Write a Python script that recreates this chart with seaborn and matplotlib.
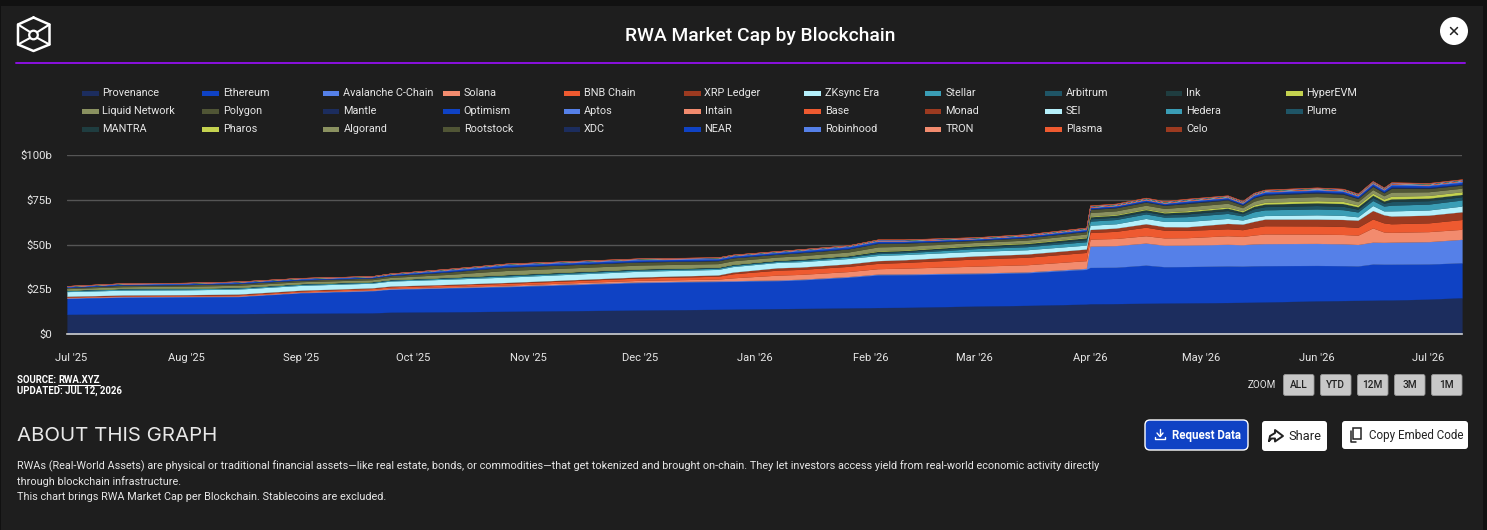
import matplotlib
matplotlib.use("Agg")
import matplotlib.pyplot as plt
import matplotlib.dates as mdates
from matplotlib.patches import Circle, FancyBboxPatch, Rectangle
import pandas as pd
import seaborn as sns

# sample dates
dates = ["2025-06-30", "2025-07-15", "2025-08-01", "2025-08-15", "2025-09-01", "2025-09-20", "2025-09-25", "2025-10-10",
         "2025-10-26", "2025-12-01", "2025-12-22", "2025-12-26", "2026-01-07", "2026-01-13", "2026-01-26", "2026-02-03",
         "2026-02-10", "2026-03-01", "2026-03-15", "2026-03-31", "2026-04-01", "2026-04-08", "2026-04-16", "2026-04-21",
         "2026-04-27", "2026-05-08", "2026-05-12", "2026-05-15", "2026-05-18", "2026-06-01", "2026-06-08", "2026-06-12",
         "2026-06-16", "2026-06-19", "2026-06-21", "2026-07-01", "2026-07-10"]

# market cap per chain, in $b
provenance = [11.0, 11.2, 11.4, 11.4, 11.6, 11.8, 12.2, 12.4, 12.7, 13.4, 13.8, 13.9, 14.2, 14.3, 14.6, 14.8, 14.9, 15.6, 16.0, 16.7, 16.9, 17.0, 17.2, 17.3, 17.4, 17.6, 17.7, 17.8, 17.9, 18.5, 18.7, 18.8, 18.9, 19.0, 19.0, 19.5, 20.3]
ethereum = [8.9, 9.4, 9.3, 9.5, 11.4, 12.3, 12.8, 13.3, 13.7, 15.3, 15.5, 15.5, 15.6, 15.9, 17.1, 18.2, 18.2, 18.0, 18.2, 19.4, 20.3, 20.3, 21.3, 20.3, 20.3, 20.4, 20.2, 20.3, 20.3, 19.8, 19.5, 19.2, 20.2, 20.0, 20.0, 19.6, 19.5]
avalanche = [.3, .3, .3, .3, .3, .3, .3, .3, .4, .4, .4, .4, .4, .4, .4, .5, .5, .5, .5, .6, 11.9, 12.1, 12.3, 12.0, 12.0, 12.1, 12.0, 12.2, 12.3, 12.3, 12.2, 12.0, 12.2, 12.2, 12.3, 12.5, 13.1]
solana = [.2, .2, .2, .2, .2, .3, .3, .4, .5, .9, 1.0, 1.6, 2.7, 2.7, 2.8, 3.0, 3.2, 3.8, 4.0, 4.3, 3.9, 4.0, 4.1, 4.1, 4.1, 4.8, 4.6, 5.0, 5.4, 5.2, 5.2, 5.2, 8.0, 5.8, 5.5, 5.6, 5.6]
bnb = [.3, .3, .4, .5, .6, .7, .8, .9, 1.0, 1.3, 1.6, 2.3, 2.8, 2.8, 2.9, 3.0, 3.2, 4.0, 4.2, 4.6, 3.7, 4.0, 4.8, 4.3, 4.1, 3.9, 3.8, 4.2, 4.6, 4.6, 4.5, 4.4, 5.0, 5.1, 4.8, 4.9, 5.5]
xrp = [.4, .4, .4, .4, .4, .4, .4, .4, .5, .6, .7, .9, 1.3, 1.3, 1.4, 1.5, 1.5, 1.7, 1.8, 1.9, 1.7, 1.8, 1.9, 2.0, 2.0, 3.0, 3.1, 3.4, 3.7, 3.8, 3.9, 4.0, 4.7, 4.5, 4.3, 4.3, 4.3]
zksync = [2.6, 2.7, 2.7, 2.8, 2.7, 2.6, 2.8, 2.9, 3.0, 3.2, 3.1, 3.1, 3.0, 3.0, 3.0, 2.9, 2.9, 2.6, 2.4, 2.2, 2.4, 2.4, 3.0, 2.9, 3.0, 2.8, 2.3, 2.4, 2.0, 2.4, 2.3, 1.9, 2.8, 2.2, 2.9, 2.9, 3.2]
stellar = [.5, .6, .6, .6, .6, .5, .5, .6, .7, .7, .65, .65, .6, .7, .8, 1.0, 1.0, 1.5, 1.7, 1.9, 2.3, 2.4, 2.5, 2.4, 2.7, 2.8, 2.3, 3.0, 3.2, 3.3, 3.2, 2.7, 2.8, 2.7, 3.2, 3.3, 3.4]
arbitrum = [.3, .3, .3, .3, .3, .3, .3, .35, .5, .45, .4, .4, .4, .45, .5, .8, .8, .9, 1.0, 1.2, 1.3, 1.3, 1.3, 1.3, 1.5, 1.6, 1.3, 1.7, 1.8, 1.9, 1.9, 1.6, 1.7, 1.6, 2.0, 1.9, 1.8]
ink = [.1, .1, .1, .1, .1, .1, .1, .15, .2, .2, .2, .2, .25, .3, .3, .5, .5, .7, .8, 1.0, 1.1, 1.1, 1.1, 1.1, 1.2, 1.3, 1.0, 1.3, 1.4, 1.5, 1.5, 1.3, 1.3, 1.2, 1.5, 1.4, 1.3]
hyperevm = [.05, .05, .05, .05, .05, .05, .05, .07, .1, .1, .1, .1, .1, .12, .12, .3, .3, .35, .4, .4, .4, .45, .5, .5, .6, .7, .6, .8, 1.0, 1.2, 1.2, 1.0, 1.1, 1.1, 1.5, 1.5, 1.5]
liquid = [.7, .9, 1.0, 1.1, 1.0, 1.0, 1.1, 1.5, 2.2, 2.0, 1.9, 1.9, 1.7, 1.8, 1.9, 2.2, 2.0, 1.5, 1.5, 1.7, 2.0, 2.0, 2.0, 2.0, 2.2, 2.1, 1.7, 2.1, 2.2, 2.3, 2.2, 1.9, 2.0, 1.9, 2.3, 2.1, 2.0]
polygon = [.6, .8, .8, .9, .9, .9, .95, 1.3, 1.8, 1.7, 1.6, 1.6, 1.5, 1.6, 1.7, 1.9, 1.8, 1.1, 1.3, 1.4, 1.7, 1.7, 1.7, 1.7, 1.8, 1.8, 1.4, 1.8, 1.9, 2.0, 1.9, 1.7, 1.8, 1.6, 2.1, 1.8, 1.7]
mantle = [.1, .15, .15, .15, .15, .15, .17, .2, .25, .25, .25, .22, .22, .25, .25, .3, .3, .25, .3, .3, .4, .4, .4, .4, .5, .5, .4, .5, .6, .6, .6, .5, .5, .5, .7, .6, .6]
optimism = [.35, .45, .45, .5, .5, .45, .5, .7, .9, .85, .8, .75, .75, .85, .9, .85, .75, .6, .7, .7, .7, .7, .7, .7, .8, .7, .6, .9, .9, .95, .9, .8, .9, .9, 1.1, 1.0, 1.0]
aptos = [.17, .22, .22, .27, .27, .22, .3, .45, .47, .47, .42, .4, .4, .45, .45, .38, .28, .23, .23, .43, .13, .18, .33, .23, .33, .33, .33, .43, .43, .48, .43, .43, .53, .53, .53, .43, .63]
intain = [.05, .05, .05, .05, .05, .05, .05, .06, .06, .06, .06, .06, .06, .06, .06, .08, .08, .08, .08, .08, .1, .1, .1, .1, .1, .1, .1, .1, .1, .1, .1, .1, .1, .1, .1, .1, .1]
base = [.08, .08, .08, .08, .08, .08, .08, .1, .1, .1, .1, .1, .1, .1, .1, .15, .15, .15, .15, .15, .2, .2, .2, .2, .2, .2, .2, .2, .2, .2, .2, .2, .2, .2, .2, .2, .2]
monad = [0, 0, 0, 0, 0, 0, 0, .02, .02, .02, .02, .02, .02, .02, .02, .05, .05, .05, .05, .05, .1, .1, .1, .1, .1, .1, .1, .1, .1, .1, .1, .1, .1, .1, .1, .1, .1]
sei = [.04, .04, .04, .04, .04, .04, .04, .05, .05, .05, .05, .05, .05, .05, .05, .08, .08, .08, .08, .08, .1, .1, .1, .1, .1, .1, .1, .1, .1, .1, .1, .1, .1, .1, .1, .1, .1]
hedera = [.03, .03, .03, .03, .03, .03, .03, .03, .03, .03, .03, .03, .03, .03, .03, .05, .05, .05, .05, .05, .06, .06, .06, .06, .06, .06, .06, .06, .06, .06, .06, .06, .06, .06, .06, .06, .06]
plume = [0, 0, 0, 0, 0, 0, 0, .02, .02, .02, .02, .02, .02, .02, .02, .05, .05, .05, .05, .05, .08, .08, .08, .08, .08, .08, .08, .08, .08, .08, .08, .08, .08, .08, .08, .08, .08]
mantra = [0, 0, 0, 0, 0, 0, 0, .01, .01, .01, .01, .01, .01, .01, .01, .03, .03, .03, .03, .03, .05, .05, .05, .05, .05, .05, .05, .05, .05, .05, .05, .05, .05, .05, .05, .05, .05]
pharos = [0, 0, 0, 0, 0, 0, 0, 0, 0, 0, 0, 0, 0, 0, 0, .01, .01, .01, .01, .01, .02, .02, .02, .02, .02, .02, .02, .02, .02, .02, .02, .02, .02, .02, .02, .02, .02]
algorand = [.03, .03, .03, .03, .03, .03, .03, .03, .03, .03, .03, .03, .03, .03, .03, .03, .03, .03, .03, .03, .03, .03, .03, .03, .03, .03, .03, .03, .03, .03, .03, .03, .03, .03, .03, .03, .03]
rootstock = [.03, .03, .03, .03, .03, .03, .03, .03, .03, .03, .03, .03, .03, .03, .03, .03, .03, .03, .03, .03, .03, .03, .03, .03, .03, .03, .03, .03, .03, .03, .03, .03, .03, .03, .03, .03, .03]
xdc = [.03, .03, .03, .03, .03, .03, .03, .03, .03, .03, .03, .03, .03, .03, .03, .03, .03, .03, .03, .03, .03, .03, .03, .03, .03, .03, .03, .03, .03, .03, .03, .03, .03, .03, .03, .03, .03]
near = [.02, .02, .02, .02, .02, .02, .02, .02, .02, .02, .02, .02, .02, .02, .02, .02, .02, .02, .02, .02, .02, .02, .02, .02, .02, .02, .02, .02, .02, .02, .02, .02, .02, .02, .02, .02, .02]
robinhood = [0, 0, 0, 0, 0, 0, 0, 0, 0, 0, 0, 0, 0, 0, 0, .02, .02, .02, .02, .02, .05, .05, .05, .05, .05, .05, .05, .05, .05, .05, .05, .05, .05, .05, .05, .05, .05]
tron = [.06, .06, .06, .06, .06, .06, .06, .08, .08, .08, .08, .08, .08, .08, .08, .09, .09, .09, .09, .09, .1, .1, .1, .1, .1, .1, .1, .1, .1, .1, .1, .1, .1, .1, .1, .1, .1]
plasma = [0, 0, 0, 0, 0, 0, 0, .03, .03, .03, .03, .03, .03, .03, .03, .06, .06, .06, .06, .06, .1, .1, .1, .1, .1, .1, .1, .1, .1, .1, .1, .1, .1, .1, .1, .1, .1]
celo = [.06, .06, .06, .06, .06, .06, .06, .07, .07, .07, .07, .07, .07, .07, .07, .09, .09, .09, .09, .09, .1, .1, .1, .1, .1, .1, .1, .1, .1, .1, .1, .1, .1, .1, .1, .1, .1]

chains = ["Provenance", "Ethereum", "Avalanche C-Chain", "Solana", "BNB Chain", "XRP Ledger", "ZKsync Era", "Stellar",
          "Arbitrum", "Ink", "HyperEVM", "Liquid Network", "Polygon", "Mantle", "Optimism", "Aptos", "Intain", "Base",
          "Monad", "SEI", "Hedera", "Plume", "MANTRA", "Pharos", "Algorand", "Rootstock", "XDC", "NEAR", "Robinhood",
          "TRON", "Plasma", "Celo"]
series = [provenance, ethereum, avalanche, solana, bnb, xrp, zksync, stellar, arbitrum, ink, hyperevm, liquid, polygon,
          mantle, optimism, aptos, intain, base, monad, sei, hedera, plume, mantra, pharos, algorand, rootstock, xdc,
          near, robinhood, tron, plasma, celo]

month_ticks = ["2025-07-01", "2025-08-01", "2025-09-01", "2025-10-01", "2025-11-01", "2025-12-01", "2026-01-01",
               "2026-02-01", "2026-03-01", "2026-04-01", "2026-05-01", "2026-06-01", "2026-07-01"]
value_ticks = [0, 25, 50, 75, 100]
value_labels = ["$0", "$25b", "$50b", "$75b", "$100b"]
zoom_labels = ["ALL", "YTD", "12M", "3M", "1M"]

base_colors = ["#1c2d5e", "#0f42c4", "#5580e8", "#f28b6e", "#ee5a30", "#9c3a20", "#b5f0fb", "#3a9db5", "#1f5566",
               "#1f3d40", "#c4d24f", "#8a9160", "#505535"]
palette = sns.color_palette(base_colors)
colors = [palette[i % len(palette)] for i in range(len(chains))]

BG = "#1e1e1e"
sns.set_theme(style="dark", rc={"axes.facecolor": "none", "figure.facecolor": "#111111"})
plt.rcParams["font.family"] = ["Roboto", "DejaVu Sans"]

df = pd.DataFrame(dict(zip(chains, series)), index=pd.to_datetime(dates))

W, H = 1487, 530
fig = plt.figure(figsize=(W / 100, H / 100), dpi=100)

# page furniture lives on a full-figure axes in pixel units
page = fig.add_axes([0, 0, 1, 1], zorder=0)
page.set_xlim(0, W)
page.set_ylim(H, 0)
page.axis("off")
page.add_patch(Rectangle((1, 6), 1482, 524, color=BG, lw=0))

# logo
hexagon = [(33.5, 17.5), (49.5, 24.5), (49.5, 44.5), (33.5, 51), (18, 44.5), (18, 24.5), (33.5, 17.5)]
page.plot(*zip(*hexagon), color="white", lw=1.8)
inner = [(18, 24.5, 30, 32), (49.5, 24.5, 37.5, 32), (18, 44.5, 30, 38), (49.5, 44.5, 37.5, 38)]
for x0, y0, x1, y1 in inner:
    page.plot([x0, x1], [y0, y1], color="white", lw=1.5)
page.add_patch(Circle((33.5, 35), 4.3, fill=False, ec="white", lw=1.6))

page.text(760.5, 36, "RWA Market Cap by Blockchain", color="white", fontsize=13.85, fontweight="medium", ha="center", va="center")
page.plot([16, 1465], [62.5, 62.5], color="#8a10e0", lw=1.4)

# close button
page.add_patch(Circle((1454, 31), 14, color="white", lw=0))
page.plot([1450.5, 1457.5], [27.5, 34.5], color="#222222", lw=1.1)
page.plot([1457.5, 1450.5], [27.5, 34.5], color="#222222", lw=1.1)

# legend grid, filled row by row
for i, (name, color) in enumerate(zip(chains, colors)):
    col, row = i % 11, i // 11
    lx = 82 + col * 120.4
    ly = 92.5 + row * 18
    page.add_patch(Rectangle((lx, ly - 2), 16.5, 5, color=color, lw=0))
    page.text(lx + 20.5, ly, name, color="#e6e6e6", fontsize=7.85, va="center", ha="left")

# source block
page.text(17, 380, "SOURCE: ", color="white", fontsize=6.9, fontweight="bold", va="center")
page.text(58, 380, "RWA.XYZ", color="white", fontsize=6.9, fontweight="bold", va="center")
page.plot([58, 100], [384.5, 384.5], color="white", lw=0.8)
page.text(17, 391, "UPDATED: JUL 12, 2026", color="white", fontsize=6.9, fontweight="bold", va="center")

# zoom buttons
page.text(1262, 384.5, "ZOOM", color="#e6e6e6", fontsize=7.1, ha="center", va="center")
for i, label in enumerate(zoom_labels):
    bx = 1282.5 + i * 37
    page.add_patch(FancyBboxPatch((bx + 1, 374.5), 30.5, 21, boxstyle="round,pad=0,rounding_size=2", fc="#c8c8c8", ec="#999999", lw=0.6))
    page.text(bx + 16, 385.5, label, color="#222222", fontsize=7.3, fontweight="medium", ha="center", va="center")

# about block
page.text(17, 436, "ABOUT THIS GRAPH", color="#e8e8e8", fontsize=14.7, family=["Inter", "Roboto"], va="center")
page.text(17, 466.5, "RWAs (Real-World Assets) are physical or traditional financial assets\u2014like real estate, bonds, or commodities\u2014that get tokenized and brought on-chain. They let investors access yield from real-world economic activity directly",
          color="#e6e6e6", fontsize=7.82, va="center")
page.text(17, 481.5, "through blockchain infrastructure.", color="#e6e6e6", fontsize=7.82, va="center")
page.text(17, 496.5, "This chart brings RWA Market Cap per Blockchain. Stablecoins are excluded.", color="#e6e6e6", fontsize=7.82, va="center")

# action buttons
page.add_patch(FancyBboxPatch((1145, 420), 103, 30, boxstyle="round,pad=0,rounding_size=5", fc="#0f42c4", ec="white", lw=1))
page.text(1206.5, 435.5, "Request Data", color="white", fontsize=8.3, fontweight="bold", ha="center", va="center")
page.plot([1160, 1160], [429, 436], color="white", lw=1)
page.plot([1157, 1160, 1163], [433, 436.5, 433], color="white", lw=1)
page.plot([1155, 1155, 1165, 1165], [437, 439, 439, 437], color="white", lw=1)

page.add_patch(FancyBboxPatch((1262, 421), 65, 30, boxstyle="round,pad=0,rounding_size=3", fc="white", ec="none"))
page.text(1305, 436.5, "Share", color="#222222", fontsize=9.3, ha="center", va="center")
share_x = [1269, 1270, 1275, 1275, 1283, 1275, 1275, 1271.5, 1269]
share_y = [441, 436, 433, 430, 436, 441.5, 438.5, 438.5, 441]
page.plot(share_x, share_y, color="#222222", lw=1.4)

page.add_patch(FancyBboxPatch((1342, 421), 126, 28, boxstyle="round,pad=0,rounding_size=3", fc="white", ec="none"))
page.text(1416, 435.5, "Copy Embed Code", color="#222222", fontsize=8.35, ha="center", va="center")
page.add_patch(Rectangle((1353, 428), 8, 11, fill=False, ec="#222222", lw=1.1))
page.plot([1351, 1351, 1356], [431, 441.5, 441.5], color="#222222", lw=1.1)

# chart axes, $0 at y=334 and $100b at y=155
ax = fig.add_axes([67 / W, (H - 334) / H, 1395 / W, 179 / H], zorder=1)
ax.stackplot(df.index, [df[c].values for c in chains], colors=colors, linewidth=0.15, edgecolor="face", zorder=3)
ax.set_xlim(pd.Timestamp("2025-06-30"), pd.Timestamp("2026-07-10"))
ax.set_ylim(0, 100)
ax.set_yticks(value_ticks)
ax.set_yticklabels(value_labels)
ax.set_xticks(pd.to_datetime(month_ticks))
ax.xaxis.set_major_formatter(mdates.DateFormatter("%b '%y"))
ax.grid(axis="y", color="#555555", lw=1, zorder=1)
ax.grid(axis="x", visible=False)
ax.tick_params(axis="x", colors="#e6e6e6", labelsize=8, length=0, pad=13.5)
ax.tick_params(axis="y", colors="#e6e6e6", labelsize=8.2, length=0, pad=10.5)
sns.despine(ax=ax, left=True, top=True, right=True)
ax.spines["bottom"].set_color("#d0d0d0")
ax.spines["bottom"].set_linewidth(1.2)
ax.spines["bottom"].set_zorder(5)

fig.savefig("out.png", dpi=100, facecolor=fig.get_facecolor())
